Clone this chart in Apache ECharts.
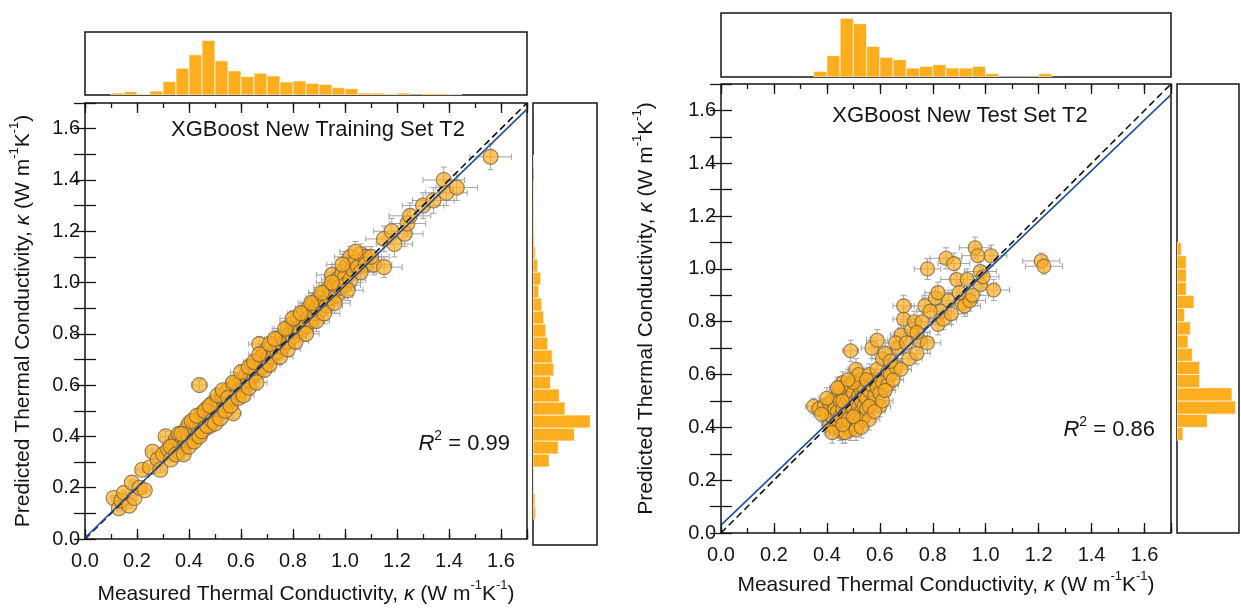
<!DOCTYPE html>
<html>
<head>
<meta charset="utf-8">
<script src="https://cdn.jsdelivr.net/npm/echarts@6/dist/echarts.min.js"></script>
<style>
html, body { margin: 0; background: #fff; }
#chart { width: 1241px; height: 610px; }
</style>
</head>
<body>
<div id="chart"></div>
<script>
// ---- data ----
// scatter points: [measured, predicted, x error, y error]
var trainPoints = [
  [0.11,0.16,0.01,0.01],[0.13,0.12,0.01,0.01],[0.14,0.15,0.01,0.01],[0.15,0.18,0.01,0.01],
  [0.17,0.13,0.01,0.01],[0.18,0.22,0.01,0.01],[0.19,0.16,0.01,0.01],[0.21,0.20,0.01,0.01],
  [0.23,0.19,0.02,0.01],[0.22,0.27,0.02,0.01],[0.25,0.28,0.02,0.01],[0.26,0.34,0.02,0.01],
  [0.28,0.31,0.02,0.01],[0.29,0.27,0.02,0.01],[0.30,0.33,0.02,0.01],[0.31,0.40,0.02,0.02],
  [0.32,0.35,0.02,0.01],[0.33,0.31,0.02,0.01],[0.34,0.37,0.02,0.02],[0.35,0.39,0.02,0.02],
  [0.36,0.34,0.02,0.01],[0.36,0.41,0.02,0.02],[0.37,0.37,0.02,0.02],[0.38,0.40,0.02,0.02],
  [0.38,0.36,0.02,0.02],[0.39,0.43,0.02,0.02],[0.39,0.38,0.02,0.02],[0.40,0.40,0.02,0.02],
  [0.40,0.45,0.02,0.02],[0.41,0.38,0.02,0.02],[0.41,0.42,0.02,0.02],[0.42,0.46,0.03,0.02],
  [0.42,0.41,0.03,0.02],[0.43,0.44,0.03,0.02],[0.43,0.40,0.03,0.02],[0.44,0.47,0.03,0.02],
  [0.44,0.60,0.03,0.02],[0.44,0.43,0.03,0.02],[0.45,0.45,0.03,0.02],[0.45,0.49,0.03,0.02],
  [0.46,0.46,0.03,0.02],[0.46,0.43,0.03,0.02],[0.47,0.48,0.03,0.02],[0.47,0.51,0.03,0.02],
  [0.48,0.46,0.03,0.02],[0.48,0.44,0.03,0.02],[0.49,0.49,0.03,0.02],[0.49,0.53,0.03,0.02],
  [0.50,0.48,0.03,0.02],[0.50,0.51,0.03,0.02],[0.51,0.50,0.03,0.02],[0.51,0.54,0.03,0.02],
  [0.52,0.49,0.03,0.02],[0.52,0.53,0.03,0.02],[0.53,0.56,0.03,0.02],[0.53,0.51,0.03,0.02],
  [0.54,0.54,0.03,0.02],[0.55,0.58,0.03,0.02],[0.55,0.53,0.03,0.02],[0.56,0.56,0.03,0.02],
  [0.57,0.49,0.03,0.02],[0.57,0.59,0.03,0.02],[0.58,0.56,0.03,0.02],[0.58,0.61,0.04,0.02],
  [0.59,0.58,0.04,0.02],[0.60,0.62,0.04,0.02],[0.60,0.58,0.04,0.02],[0.61,0.60,0.04,0.02],
  [0.62,0.64,0.04,0.03],[0.62,0.60,0.04,0.02],[0.63,0.62,0.04,0.02],[0.64,0.67,0.04,0.03],
  [0.64,0.63,0.04,0.03],[0.65,0.64,0.04,0.03],[0.66,0.69,0.04,0.03],[0.66,0.65,0.04,0.03],
  [0.67,0.76,0.04,0.03],[0.67,0.67,0.04,0.03],[0.68,0.71,0.04,0.03],[0.68,0.67,0.04,0.03],
  [0.69,0.72,0.04,0.03],[0.70,0.69,0.04,0.03],[0.70,0.74,0.04,0.03],[0.71,0.71,0.04,0.03],
  [0.72,0.75,0.04,0.03],[0.72,0.71,0.04,0.03],[0.73,0.73,0.04,0.03],[0.74,0.78,0.04,0.03],
  [0.74,0.73,0.04,0.03],[0.75,0.75,0.05,0.03],[0.76,0.79,0.05,0.03],[0.76,0.75,0.05,0.03],
  [0.77,0.77,0.05,0.03],[0.78,0.82,0.05,0.03],[0.78,0.77,0.05,0.03],[0.79,0.80,0.05,0.03],
  [0.80,0.84,0.05,0.03],[0.80,0.79,0.05,0.03],[0.81,0.81,0.05,0.03],[0.82,0.86,0.05,0.03],
  [0.82,0.82,0.05,0.03],[0.83,0.81,0.05,0.03],[0.84,0.88,0.05,0.03],[0.84,0.84,0.05,0.03],
  [0.85,0.83,0.05,0.03],[0.86,0.90,0.05,0.04],[0.86,0.86,0.05,0.03],[0.87,0.85,0.05,0.03],
  [0.88,0.92,0.05,0.04],[0.88,0.88,0.05,0.04],[0.89,0.90,0.05,0.04],[0.90,0.94,0.05,0.04],
  [0.90,0.89,0.05,0.04],[0.91,0.92,0.05,0.04],[0.92,0.96,0.06,0.04],[0.92,0.92,0.06,0.04],
  [0.93,0.91,0.06,0.04],[0.94,0.98,0.06,0.04],[0.94,0.94,0.06,0.04],[0.95,1.03,0.06,0.04],
  [0.95,0.96,0.06,0.04],[0.96,0.99,0.06,0.04],[0.97,0.95,0.06,0.04],[0.97,1.01,0.06,0.04],
  [0.98,1.02,0.06,0.04],[0.98,0.98,0.06,0.04],[0.99,1.04,0.06,0.04],[1.00,1.02,0.06,0.04],
  [1.00,0.99,0.06,0.04],[1.01,1.07,0.06,0.04],[1.02,1.01,0.06,0.04],[1.02,1.10,0.06,0.04],
  [1.03,1.05,0.06,0.04],[1.04,1.08,0.06,0.04],[1.05,1.06,0.06,0.04],[1.06,1.11,0.06,0.04],
  [1.08,1.10,0.06,0.04],[1.08,1.07,0.06,0.04],[1.11,1.07,0.07,0.04],[1.15,1.06,0.07,0.04],
  [1.15,1.17,0.07,0.05],[1.18,1.20,0.07,0.05],[1.19,1.15,0.07,0.05],[1.23,1.19,0.07,0.05],
  [1.24,1.23,0.07,0.05],[1.25,1.26,0.08,0.05],[1.30,1.30,0.08,0.05],[1.34,1.32,0.08,0.05],
  [1.38,1.40,0.08,0.05],[1.39,1.35,0.08,0.05],[1.43,1.37,0.08,0.05],[1.56,1.49,0.08,0.05],
  [0.33,0.36,0.02,0.02],[0.35,0.33,0.02,0.02],[0.37,0.41,0.02,0.02],[0.38,0.33,0.02,0.02],
  [0.40,0.36,0.02,0.02],[0.41,0.46,0.02,0.02],[0.42,0.38,0.03,0.02],[0.43,0.48,0.03,0.02],
  [0.44,0.40,0.03,0.02],[0.45,0.42,0.03,0.02],[0.46,0.50,0.03,0.02],[0.47,0.44,0.03,0.02],
  [0.48,0.52,0.03,0.02],[0.49,0.46,0.03,0.02],[0.50,0.45,0.03,0.02],[0.51,0.56,0.03,0.02],
  [0.52,0.47,0.03,0.02],[0.53,0.58,0.03,0.02],[0.54,0.50,0.03,0.02],[0.55,0.55,0.03,0.02],
  [0.56,0.52,0.03,0.02],[0.57,0.61,0.03,0.02],[0.59,0.55,0.04,0.02],[0.60,0.65,0.04,0.03],
  [0.61,0.56,0.04,0.02],[0.63,0.67,0.04,0.03],[0.63,0.59,0.04,0.03],[0.65,0.69,0.04,0.03],
  [0.66,0.61,0.04,0.03],[0.67,0.72,0.04,0.03],[0.69,0.66,0.04,0.03],[0.71,0.76,0.04,0.03],
  [0.71,0.68,0.04,0.03],[0.73,0.78,0.04,0.03],[0.75,0.71,0.05,0.03],[0.77,0.82,0.05,0.03],
  [0.78,0.74,0.05,0.03],[0.80,0.86,0.05,0.03],[0.81,0.77,0.05,0.03],[0.83,0.88,0.05,0.03],
  [0.85,0.80,0.05,0.03],[0.87,0.92,0.05,0.04],[0.89,0.85,0.05,0.04],[0.91,0.96,0.05,0.04],
  [0.92,0.88,0.06,0.04],[0.95,1.00,0.06,0.04],[0.96,0.92,0.06,0.04],[0.99,1.07,0.06,0.04],
  [1.01,0.97,0.06,0.04],[1.04,1.12,0.06,0.04],[1.06,1.04,0.06,0.04],[1.10,1.10,0.07,0.04]
];

var testPoints = [
  [0.35,0.48,0.03,0.03],[0.37,0.47,0.03,0.03],[0.39,0.48,0.03,0.03],
  [0.40,0.45,0.03,0.04],[0.41,0.49,0.03,0.04],[0.41,0.41,0.03,0.04],[0.42,0.44,0.03,0.04],
  [0.42,0.50,0.03,0.04],[0.43,0.47,0.03,0.04],[0.43,0.40,0.03,0.04],[0.44,0.52,0.03,0.04],
  [0.44,0.43,0.03,0.04],[0.44,0.46,0.03,0.04],
  [0.45,0.39,0.03,0.04],[0.45,0.44,0.03,0.04],[0.45,0.50,0.03,0.04],[0.46,0.38,0.03,0.04],
  [0.46,0.47,0.03,0.04],[0.46,0.53,0.03,0.04],[0.46,0.57,0.03,0.04],[0.47,0.42,0.03,0.04],
  [0.47,0.49,0.03,0.04],[0.47,0.55,0.03,0.04],[0.47,0.45,0.03,0.04],[0.48,0.40,0.03,0.04],
  [0.48,0.51,0.03,0.04],[0.48,0.46,0.03,0.04],[0.48,0.54,0.03,0.04],[0.49,0.39,0.03,0.04],
  [0.49,0.48,0.03,0.04],[0.49,0.44,0.03,0.04],[0.49,0.69,0.03,0.04],[0.49,0.52,0.03,0.04],
  [0.46,0.50,0.03,0.04],[0.45,0.55,0.03,0.04],[0.47,0.38,0.03,0.04],[0.48,0.43,0.03,0.04],
  [0.49,0.56,0.03,0.04],
  [0.50,0.41,0.03,0.04],[0.50,0.47,0.03,0.04],[0.50,0.53,0.03,0.04],[0.51,0.45,0.03,0.04],
  [0.51,0.50,0.03,0.04],[0.51,0.62,0.03,0.04],[0.51,0.43,0.03,0.04],[0.52,0.48,0.03,0.04],
  [0.52,0.52,0.03,0.04],[0.52,0.56,0.03,0.04],[0.52,0.42,0.03,0.04],[0.53,0.46,0.03,0.04],
  [0.53,0.50,0.03,0.04],[0.53,0.54,0.03,0.04],[0.53,0.58,0.03,0.04],[0.54,0.44,0.03,0.04],
  [0.54,0.48,0.03,0.04],[0.54,0.52,0.03,0.04],[0.54,0.55,0.03,0.04],[0.50,0.57,0.03,0.04],
  [0.52,0.60,0.03,0.04],[0.53,0.43,0.03,0.04],
  [0.55,0.47,0.04,0.04],[0.55,0.51,0.04,0.04],[0.56,0.54,0.04,0.04],[0.56,0.60,0.04,0.04],
  [0.56,0.43,0.04,0.04],[0.57,0.49,0.04,0.04],[0.57,0.56,0.04,0.04],[0.57,0.70,0.04,0.04],
  [0.58,0.52,0.04,0.04],[0.58,0.58,0.04,0.04],[0.59,0.73,0.04,0.04],[0.59,0.55,0.04,0.04],
  [0.59,0.62,0.04,0.04],
  [0.60,0.53,0.04,0.04],[0.60,0.48,0.04,0.04],[0.61,0.57,0.04,0.04],[0.61,0.66,0.04,0.04],
  [0.62,0.68,0.04,0.04],[0.63,0.56,0.04,0.04],[0.63,0.61,0.04,0.04],[0.64,0.60,0.04,0.04],
  [0.65,0.58,0.04,0.04],[0.66,0.63,0.04,0.04],[0.67,0.70,0.04,0.04],[0.68,0.75,0.04,0.04],
  [0.68,0.62,0.04,0.04],[0.69,0.81,0.04,0.04],[0.69,0.86,0.04,0.04],
  [0.71,0.66,0.05,0.04],[0.72,0.77,0.05,0.04],[0.73,0.80,0.05,0.04],[0.74,0.68,0.05,0.04],
  [0.75,0.73,0.05,0.04],[0.76,0.80,0.05,0.04],[0.77,0.86,0.05,0.04],[0.78,0.72,0.05,0.04],
  [0.78,1.00,0.05,0.04],
  [0.81,0.89,0.05,0.04],[0.82,0.79,0.05,0.04],[0.82,0.91,0.05,0.04],[0.83,0.84,0.05,0.04],
  [0.84,0.81,0.05,0.04],
  [0.85,1.04,0.06,0.04],[0.87,0.83,0.06,0.04],[0.88,1.02,0.06,0.04],[0.89,0.96,0.06,0.04],
  [0.91,0.87,0.06,0.04],[0.92,0.86,0.06,0.04],[0.93,0.96,0.06,0.04],[0.94,0.88,0.06,0.04],
  [0.96,1.08,0.06,0.04],[0.97,1.05,0.06,0.04],[0.98,0.94,0.06,0.04],[0.98,0.99,0.06,0.04],
  [0.99,0.97,0.06,0.04],[1.02,1.05,0.06,0.04],[1.03,0.92,0.06,0.04],
  [1.21,1.03,0.07,0.03],[1.22,1.01,0.07,0.03],
  [0.38,0.45,0.03,0.03],[0.40,0.51,0.03,0.04],[0.42,0.38,0.03,0.04],[0.44,0.55,0.03,0.04],
  [0.46,0.41,0.03,0.04],[0.48,0.58,0.03,0.04],[0.50,0.44,0.03,0.04],[0.51,0.39,0.03,0.04],
  [0.53,0.40,0.03,0.04],[0.55,0.58,0.04,0.04],[0.56,0.48,0.04,0.04],[0.58,0.46,0.04,0.04],
  [0.61,0.50,0.04,0.04],[0.62,0.54,0.04,0.04],[0.64,0.65,0.04,0.04],[0.66,0.72,0.04,0.04],
  [0.70,0.72,0.05,0.04],[0.74,0.76,0.05,0.04],[0.79,0.84,0.05,0.04],[0.86,0.88,0.06,0.04],
  [0.90,0.91,0.06,0.04],[0.95,0.90,0.06,0.04]
];

// histograms (bin start, bar length in relative units), bins are 0.05 wide
var binWidth = 0.05;
var trainMeasuredBins = [0.10,0.15,0.20,0.25,0.30,0.35,0.40,0.45,0.50,0.55,0.60,0.65,0.70,0.75,0.80,0.85,0.90,0.95,1.00,1.05,1.10,1.15,1.20,1.25,1.30,1.35,1.40];
var trainMeasuredCounts = [6,10,3,12,40,80,120,163,102,72,55,65,57,39,42,35,32,22,19,6,6,3,6,0,4,4,1];
var trainPredictedBins = [0.10,0.15,0.20,0.25,0.30,0.35,0.40,0.45,0.50,0.55,0.60,0.65,0.70,0.75,0.80,0.85,0.90,0.95,1.00,1.05,1.10,1.15,1.20,1.25,1.30,1.35,1.40,1.45];
var trainPredictedCounts = [8,6,2,2,48,75,123,170,95,78,52,62,57,44,38,32,26,17,23,14,7,4,3,1,3,3,0,1];
var testMeasuredBins = [0.35,0.40,0.45,0.50,0.55,0.60,0.65,0.70,0.75,0.80,0.85,0.90,0.95,1.00,1.05,1.10,1.15,1.20];
var testMeasuredCounts = [17,64,176,160,92,59,52,27,32,37,27,27,32,10,0,0,0,10];
var testPredictedBins = [0.35,0.40,0.45,0.50,0.55,0.60,0.65,0.70,0.75,0.80,0.85,0.90,0.95,1.00,1.05];
var testPredictedCounts = [18,91,176,165,68,68,46,33,40,23,51,28,28,28,13];

// parity and fitted lines
var parityLine = [[0, 0], [1.7, 1.7]];
var trainFitLine = [[0, 0.005], [1.7, 1.676]];
var testFitLine = [[0, 0.03], [1.7, 1.66]];

var trainTitle = 'XGBoost New Training Set T2';
var testTitle = 'XGBoost New Test Set T2';
var trainR2 = '0.99';
var testR2 = '0.86';

// ---- style ----
var FONT = 'Liberation Sans, Arial, Helvetica, sans-serif';
var INK = '#151515';
var BAR = '#FDAE1E';
var DOT = 'rgba(255, 172, 30, 0.88)';
var DOT_EDGE = '#74644a';

var chart = echarts.init(document.getElementById('chart'), null, { renderer: 'canvas' });

function richName(prefix) {
  return '{t|' + prefix + '}{k|κ}{t| (W m}{s|-1}{t|K}{s|-1}{t|)}';
}
var nameRich = {
  t: { fontSize: 21, fontFamily: FONT, color: INK, lineHeight: 26, verticalAlign: 'bottom' },
  k: { fontSize: 21, fontFamily: FONT, color: INK, fontStyle: 'italic', lineHeight: 26, verticalAlign: 'bottom' },
  s: { fontSize: 13, fontFamily: FONT, color: INK, lineHeight: 14, verticalAlign: 'top' }
};

function fmtX(v) {
  return (Math.abs(v * 5 - Math.round(v * 5)) < 1e-6 && v < 1.65) ? v.toFixed(1) : '';
}
function fmtY(v) {
  return (Math.round(v * 10) % 2 === 0 && v < 1.65) ? v.toFixed(1) : '';
}

var grids = [
  { left: 85, top: 103, width: 442, height: 442 },   // 0 train main
  { left: 85, top: 32, width: 442, height: 63 },     // 1 train top hist
  { left: 533, top: 103, width: 64, height: 442 },   // 2 train right hist
  { left: 721, top: 84, width: 450, height: 449 },   // 3 test main
  { left: 721, top: 13, width: 450, height: 64 },    // 4 test top hist
  { left: 1177, top: 84, width: 62, height: 449 }    // 5 test right hist
].map(function (g) {
  return Object.assign({ show: true, borderColor: INK, borderWidth: 1.5, backgroundColor: 'transparent', containLabel: false }, g);
});

var xAxes = [];
var yAxes = [];

function mainAxes(g, nameGapX, nameGapY) {
  var tickStyle = { color: INK, width: 1.3 };
  var xi = xAxes.length;
  xAxes.push({
    gridIndex: g, type: 'value', min: 0, max: 1.7, interval: 0.2, position: 'bottom',
    axisLine: { show: false }, splitLine: { show: false },
    axisTick: { show: true, inside: true, length: 10, lineStyle: tickStyle },
    axisLabel: { fontSize: 20, color: INK, fontFamily: FONT, margin: 12, formatter: fmtX },
    name: richName('Measured Thermal Conductivity, '), nameLocation: 'middle', nameGap: nameGapX,
    nameTextStyle: { rich: nameRich }
  });
  xAxes.push({
    gridIndex: g, type: 'value', min: 0, max: 1.7, interval: 0.1, position: 'bottom',
    axisLine: { show: false }, splitLine: { show: false }, axisLabel: { show: false },
    axisTick: { show: true, inside: true, length: 5, lineStyle: tickStyle }
  });
  xAxes.push({
    gridIndex: g, type: 'value', min: 0, max: 1.7, interval: 0.2, position: 'top',
    axisLine: { show: false }, splitLine: { show: false }, axisLabel: { show: false },
    axisTick: { show: true, inside: true, length: 10, lineStyle: tickStyle }
  });
  xAxes.push({
    gridIndex: g, type: 'value', min: 0, max: 1.7, interval: 0.1, position: 'top',
    axisLine: { show: false }, splitLine: { show: false }, axisLabel: { show: false },
    axisTick: { show: true, inside: true, length: 5, lineStyle: tickStyle }
  });
  var yi = yAxes.length;
  yAxes.push({
    gridIndex: g, type: 'value', min: 0, max: 1.7, interval: 0.1, position: 'left',
    axisLine: { show: false }, splitLine: { show: false },
    axisTick: { show: true, inside: true, length: 11, lineStyle: tickStyle },
    axisLabel: { fontSize: 20, color: INK, fontFamily: FONT, margin: 5, formatter: fmtY },
    name: richName('Predicted Thermal Conductivity, '), nameLocation: 'middle', nameGap: nameGapY,
    nameTextStyle: { rich: nameRich }
  });
  yAxes.push({
    gridIndex: g, type: 'value', min: 0, max: 1.7, interval: 0.1, position: 'right',
    axisLine: { show: false }, splitLine: { show: false }, axisLabel: { show: false },
    axisTick: { show: true, inside: true, length: 11, lineStyle: tickStyle }
  });
  return { x: xi, y: yi };
}

function hiddenAxis(g, min, max) {
  return { gridIndex: g, type: 'value', min: min, max: max, show: false, splitLine: { show: false } };
}

var trainAx = mainAxes(0, 40, 51);
var trainTopX = xAxes.length; xAxes.push(hiddenAxis(1, 0, 1.7));
var trainTopY = yAxes.length; yAxes.push(hiddenAxis(1, 0, 188));
var trainSideX = xAxes.length; xAxes.push(hiddenAxis(2, 0, 190));
var trainSideY = yAxes.length; yAxes.push(hiddenAxis(2, 0, 1.7));

var testAx = mainAxes(3, 37, 64);
var testTopX = xAxes.length; xAxes.push(hiddenAxis(4, 0, 1.7));
var testTopY = yAxes.length; yAxes.push(hiddenAxis(4, 0, 192));
var testSideX = xAxes.length; xAxes.push(hiddenAxis(5, 0, 186));
var testSideY = yAxes.length; yAxes.push(hiddenAxis(5, 0, 1.7));

function topHist(params, api) {
  var s = api.value(0), c = api.value(1);
  var p0 = api.coord([s, 0]);
  var p1 = api.coord([s + binWidth, c]);
  return {
    type: 'rect',
    shape: { x: p0[0], y: p1[1], width: p1[0] - p0[0], height: p0[1] - p1[1] },
    style: { fill: BAR, stroke: '#fff', lineWidth: 0.7 }
  };
}
function sideHist(params, api) {
  var c = api.value(0), s = api.value(1);
  var p0 = api.coord([0, s]);
  var p1 = api.coord([c, s + binWidth]);
  return {
    type: 'rect',
    shape: { x: p0[0], y: p1[1], width: p1[0] - p0[0], height: p0[1] - p1[1] },
    style: { fill: BAR, stroke: '#fff', lineWidth: 0.7 }
  };
}
function errorBars(params, api) {
  var x = api.value(0), y = api.value(1), ex = api.value(2), ey = api.value(3);
  var l = api.coord([x - ex, y]), r = api.coord([x + ex, y]);
  var b = api.coord([x, y - ey]), t = api.coord([x, y + ey]);
  var c = 3;
  var st = { stroke: '#a3a3a3', lineWidth: 1 };
  function seg(x1, y1, x2, y2) { return { type: 'line', shape: { x1: x1, y1: y1, x2: x2, y2: y2 }, style: st }; }
  return {
    type: 'group',
    children: [
      seg(l[0], l[1], r[0], r[1]),
      seg(l[0], l[1] - c, l[0], l[1] + c),
      seg(r[0], r[1] - c, r[0], r[1] + c),
      seg(b[0], b[1], t[0], t[1]),
      seg(b[0] - c, b[1], b[0] + c, b[1]),
      seg(t[0] - c, t[1], t[0] + c, t[1])
    ]
  };
}

function pairs(a, b) { return a.map(function (v, i) { return [v, b[i]]; }); }

function panelSeries(ax, points, fitLine, size, topX, topY, topBins, topCounts, sideX, sideY, sideBins, sideCounts) {
  return [
    {
      type: 'custom', xAxisIndex: ax.x, yAxisIndex: ax.y, renderItem: errorBars, clip: true, z: 1,
      data: points
    },
    {
      type: 'scatter', xAxisIndex: ax.x, yAxisIndex: ax.y, symbol: 'circle', symbolSize: size, z: 2,
      itemStyle: { color: DOT, borderColor: DOT_EDGE, borderWidth: 1.1 },
      data: points.map(function (p) { return [p[0], p[1]]; })
    },
    {
      type: 'line', xAxisIndex: ax.x, yAxisIndex: ax.y, symbol: 'none', z: 3, clip: true,
      lineStyle: { color: '#111', width: 1.6, type: [7, 4] },
      data: parityLine
    },
    {
      type: 'line', xAxisIndex: ax.x, yAxisIndex: ax.y, symbol: 'none', z: 4, clip: true,
      lineStyle: { color: '#1f4f9a', width: 1.6 },
      data: fitLine
    },
    {
      type: 'custom', xAxisIndex: topX, yAxisIndex: topY, renderItem: topHist, clip: true,
      data: pairs(topBins, topCounts)
    },
    {
      type: 'custom', xAxisIndex: sideX, yAxisIndex: sideY, renderItem: sideHist, clip: true,
      data: pairs(sideCounts, sideBins)
    }
  ];
}

var series = [].concat(
  panelSeries(trainAx, trainPoints, trainFitLine, 15, trainTopX, trainTopY, trainMeasuredBins, trainMeasuredCounts,
    trainSideX, trainSideY, trainPredictedBins, trainPredictedCounts),
  panelSeries(testAx, testPoints, testFitLine, 14, testTopX, testTopY, testMeasuredBins, testMeasuredCounts,
    testSideX, testSideY, testPredictedBins, testPredictedCounts)
);

var r2Rich = {
  i: { fontSize: 22, fontFamily: FONT, fill: INK, color: INK, fontStyle: 'italic', lineHeight: 26, verticalAlign: 'bottom' },
  s: { fontSize: 14, fontFamily: FONT, fill: INK, color: INK, lineHeight: 14, verticalAlign: 'top' },
  n: { fontSize: 22, fontFamily: FONT, fill: INK, color: INK, lineHeight: 26, verticalAlign: 'bottom' }
};

function label(x, y, text, align) {
  return {
    type: 'text', x: x, y: y, z: 10,
    style: { text: text, fill: INK, font: '22px ' + FONT, align: align, verticalAlign: 'middle',
             textAlign: align, textVerticalAlign: 'middle' }
  };
}
function r2Label(x, y, val) {
  return {
    type: 'text', x: x, y: y, z: 10,
    style: { text: '{i|R}{s|2}{n| = ' + val + '}', rich: r2Rich, align: 'right', verticalAlign: 'middle',
             textAlign: 'right', textVerticalAlign: 'middle' }
  };
}

var option = {
  animation: false,
  backgroundColor: '#fff',
  grid: grids,
  xAxis: xAxes,
  yAxis: yAxes,
  series: series,
  graphic: [
    label(318, 130, trainTitle, 'center'),
    label(960, 116, testTitle, 'center'),
    r2Label(510, 442, trainR2),
    r2Label(1155, 428, testR2)
  ]
};

chart.setOption(option);

window.addEventListener('resize', function () {
  chart.resize();
});
</script>
</body>
</html>
